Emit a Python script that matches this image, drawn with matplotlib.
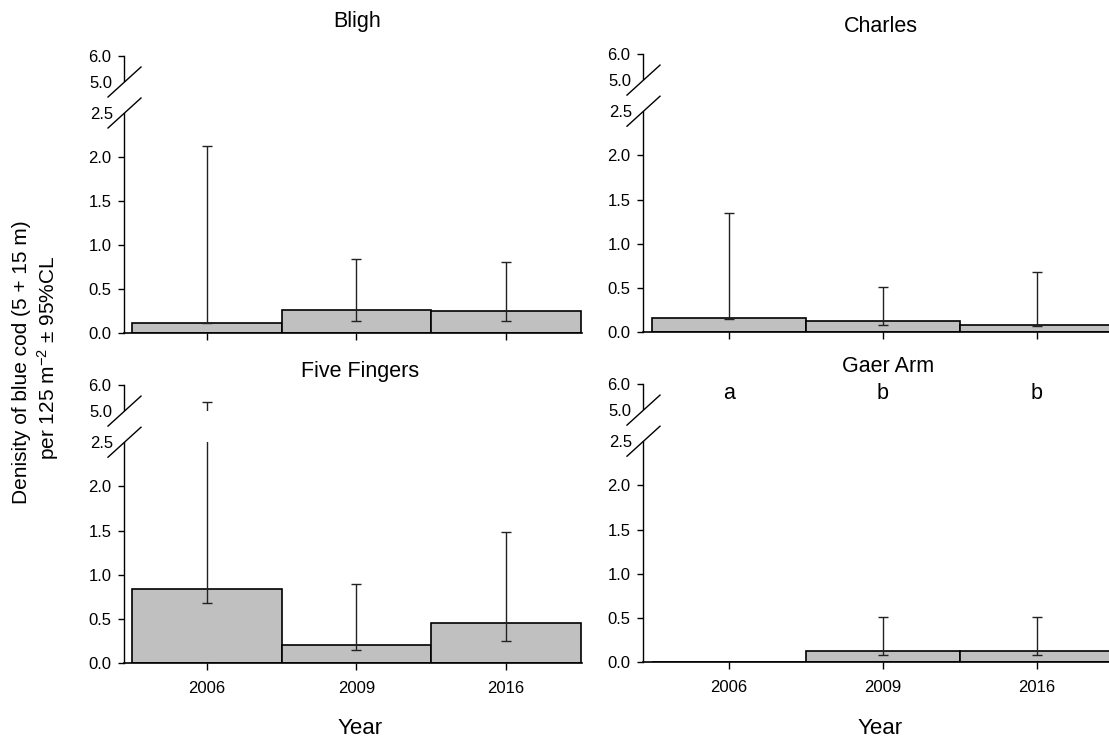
import matplotlib
matplotlib.use('Agg')
import matplotlib.pyplot as plt
from matplotlib.patches import Rectangle
from matplotlib.lines import Line2D
import numpy as np

plt.rcParams['font.family'] = ['Liberation Sans', 'DejaVu Sans']
plt.rcParams['mathtext.fontset'] = 'custom'
plt.rcParams['mathtext.rm'] = 'Liberation Sans'
plt.rcParams['mathtext.it'] = 'Liberation Sans:italic'

# 数据：均值及 95% 置信区间上下限
years = ['2006', '2009', '2016']
sites = ['Bligh', 'Charles', 'Five Fingers', 'Gaer Arm']

bligh_mean = [0.117, 0.258, 0.246]
bligh_lo = [0.114, 0.140, 0.136]
bligh_hi = [2.12, 0.837, 0.807]

charles_mean = [0.163, 0.125, 0.079]
charles_lo = [0.144, 0.083, 0.068]
charles_hi = [1.35, 0.51, 0.677]

five_mean = [0.833, 0.200, 0.455]
five_lo = [0.674, 0.144, 0.250]
five_hi = [5.36, 0.898, 1.485]

gaer_mean = [0.0, 0.121, 0.121]
gaer_lo = [np.nan, 0.083, 0.083]
gaer_hi = [np.nan, 0.51, 0.51]

gaer_letters = ['a', 'b', 'b']

W, H = 1109, 740
fig = plt.figure(figsize=(W / 100, H / 100), dpi=100)


def fx(px):
    return px / W


def fy(py):
    return 1 - py / H


# 断轴：0-2.5 和 5-6 两段，中间留空
G = 31 / 88
U = 26 / 88


def fwd(y):
    y = np.asarray(y, float)
    return np.where(y <= 2.5, y, np.where(y <= 5, 2.5 + (y - 2.5) * G / 2.5, 2.5 + G + (y - 5) * U))


def inv(z):
    z = np.asarray(z, float)
    return np.where(z <= 2.5, z, np.where(z <= 2.5 + G, 2.5 + (z - 2.5) * 2.5 / G, 5 + (z - 2.5 - G) / U))


# 每个子图的像素位置 (left, top, right, bottom) 与 x 范围
boxes = [(124, 56, 582, 333), (643, 54, 1109, 332), (124, 385, 582, 663), (643, 384, 1109, 662)]
xlims = [(-0.553, 2.507), (-0.558, 2.467), (-0.553, 2.507), (-0.558, 2.467)]
means = [bligh_mean, charles_mean, five_mean, gaer_mean]
los = [bligh_lo, charles_lo, five_lo, gaer_lo]
his = [bligh_hi, charles_hi, five_hi, gaer_hi]
title_pos = [(357, 22), (881, 26), (360, 371), (888, 367)]

x = np.arange(len(years))
for i in range(4):
    l, t, r, b = boxes[i]
    ax = fig.add_axes([fx(l), fy(b), fx(r - l), (b - t) / H])
    ax.set_yscale('function', functions=(fwd, inv))
    ax.bar(x, means[i], width=1.0, color='#c0c0c0', edgecolor='black', linewidth=1.2, zorder=2)
    for j in range(len(years)):
        if np.isnan(los[i][j]):
            continue
        ax.errorbar(x[j], means[i][j],
                    yerr=[[means[i][j] - los[i][j]], [his[i][j] - means[i][j]]],
                    fmt='none', ecolor='#222222', elinewidth=1, capsize=3.3, capthick=1, zorder=3)
    ax.set_xlim(*xlims[i])
    ax.set_ylim(0, 6)
    for s in ['top', 'right']:
        ax.spines[s].set_visible(False)
    ax.spines['left'].set_linewidth(1)
    ax.spines['bottom'].set_linewidth(1.2)
    ax.set_yticks([0, 0.5, 1.0, 1.5, 2.0, 6.0])
    ax.set_yticklabels(['0.0', '0.5', '1.0', '1.5', '2.0', '6.0'])
    ax.set_yticks([2.5, 5.0], minor=True)
    ax.set_yticklabels(['2.5', '5.0'], minor=True)
    ax.tick_params(axis='y', which='major', direction='out', length=4, width=1, pad=5, labelsize=12)
    ax.tick_params(axis='y', which='minor', length=0, pad=8, labelsize=12)
    ax.set_xticks(x)
    if i >= 2:
        ax.set_xticklabels(years)
    else:
        ax.set_xticklabels([])
    ax.tick_params(axis='x', direction='out', length=5, width=1, pad=8, labelsize=12)

    # 遮住断开区间
    trans = ax.get_yaxis_transform()
    ax.add_patch(Rectangle((-0.02, 2.5), 1.04, 2.5, transform=trans, facecolor='white',
                           edgecolor='none', zorder=5, clip_on=False))

    # 断轴斜线
    for yb in [2.5, 5.0]:
        px, py = ax.transData.transform((xlims[i][0], yb))
        p0 = fig.transFigure.inverted().transform((px - 16, py - 15))
        p1 = fig.transFigure.inverted().transform((px + 17, py + 15))
        fig.add_artist(Line2D([p0[0], p1[0]], [p0[1], p1[1]], color='black', linewidth=1,
                              transform=fig.transFigure, zorder=6))

    tx, ty = title_pos[i]
    fig.text(fx(tx), fy(ty), sites[i], ha='center', va='center', fontsize=15.5)

    if i == 3:
        for j in range(len(years)):
            ax.text(x[j], 5.65, gaer_letters[j], ha='center', va='center', fontsize=15.5, zorder=7)

fig.text(fx(360), fy(729), 'Year', ha='center', va='center', fontsize=16)
fig.text(fx(880), fy(729), 'Year', ha='center', va='center', fontsize=16)

fig.text(fx(22), fy(362), 'Denisity of blue cod (5 + 15 m)', rotation=90,
         ha='center', va='center', fontsize=15)
fig.text(fx(48), fy(358), 'per 125 m$^{-2}$ ± 95%CL', rotation=90,
         ha='center', va='center', fontsize=15)

plt.savefig('out.png', dpi=100)
